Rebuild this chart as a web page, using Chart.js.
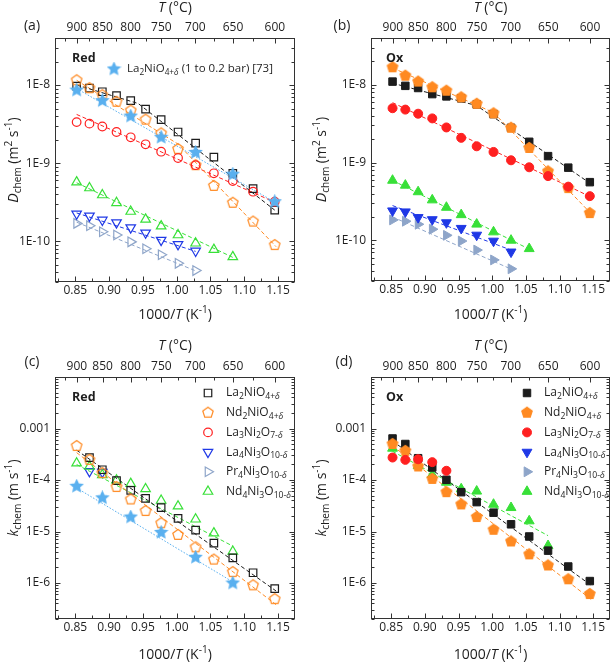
<!DOCTYPE html>
<html>
<head>
<meta charset="utf-8">
<script src="https://cdn.jsdelivr.net/npm/chart.js@4.4.1/dist/chart.umd.min.js"></script>
<style>
  body { margin: 0; background: #fff; }
  #wrap { position: relative; width: 614px; height: 665px; }
  canvas { position: absolute; }
</style>
</head>
<body>
<div id="wrap">
  <canvas id="pa" width="307" height="330" style="left:0;top:0;width:307px;height:330px"></canvas>
  <canvas id="pb" width="307" height="330" style="left:307px;top:0;width:307px;height:330px"></canvas>
  <canvas id="pc" width="307" height="335" style="left:0;top:330px;width:307px;height:335px"></canvas>
  <canvas id="pd" width="307" height="335" style="left:307px;top:330px;width:307px;height:335px"></canvas>
</div>
<script>
// ---- data ----
// 1000/T positions of the measurement temperatures (900 ... 600 °C, 25 °C steps)
const invT = [0.852, 0.871, 0.890, 0.911, 0.932, 0.954, 0.977, 1.002, 1.028, 1.055, 1.083, 1.113, 1.145];
const invTRef = [0.852, 0.890, 0.932, 0.977, 1.028, 1.083, 1.145];

// tick labels
const xTickVals = [0.85, 0.90, 0.95, 1.00, 1.05, 1.10, 1.15];
const xMinorVals = [0.825, 0.875, 0.925, 0.975, 1.025, 1.075, 1.125];
const topTempC = [900, 850, 800, 750, 700, 650, 600];
const topMinorC = [925, 875, 825, 775, 725, 675, 625];
const dTickVals = [1e-10, 1e-9, 1e-8];
const dTickLabels = ['1E-10', '1E-9', '1E-8'];
const kTickVals = [1e-6, 1e-5, 1e-4, 1e-3];
const kTickLabels = ['1E-6', '1E-5', '1E-4', '0.001'];
const legendLabels = ['La_2NiO_{4+δ}', 'Nd_2NiO_{4+δ}', 'La_3Ni_2O_{7-δ}', 'La_4Ni_3O_{10-δ}', 'Pr_4Ni_3O_{10-δ}', 'Nd_4Ni_3O_{10-δ}'];

// (a) D_chem, reduction
const dRedLa2NiO4 = [9.7e-9, 9.1e-9, 8.2e-9, 7.3e-9, 6.3e-9, 4.9e-9, 3.6e-9, 2.5e-9, 1.8e-9, 1.19e-9, 7.4e-10, 4.7e-10, 2.5e-10];
const dRedNd2NiO4 = [1.15e-8, 9.1e-9, 7.4e-9, 6.1e-9, 4.7e-9, 3.6e-9, 2.4e-9, 1.51e-9, 9.4e-10, 5.1e-10, 3.1e-10, 1.78e-10, 8.9e-11];
const dRedLa3Ni2O7 = [3.35e-9, 3.2e-9, 2.94e-9, 2.5e-9, 2.14e-9, 1.74e-9, 1.40e-9, 1.16e-9, 9.4e-10, 7.4e-10, 5.9e-10, 4.3e-10, 3.2e-10];
const dRedLa4Ni3O10 = [2.24e-10, 2.11e-10, 1.87e-10, 1.73e-10, 1.49e-10, 1.28e-10, 1.03e-10, 9.1e-11, 7.5e-11];
const dRedPr4Ni3O10 = [1.69e-10, 1.58e-10, 1.32e-10, 1.2e-10, 9.8e-11, 8.0e-11, 6.7e-11, 5.2e-11, 4.2e-11];
const dRedNd4Ni3O10 = [5.7e-10, 4.8e-10, 3.9e-10, 3.1e-10, 2.4e-10, 1.9e-10, 1.56e-10, 1.2e-10, 9.4e-11, 7.8e-11, 6.3e-11];
const dRefLa2NiO4 = [8.6e-9, 6.3e-9, 4.0e-9, 2.14e-9, 1.37e-9, 7.2e-10, 3.2e-10];

// (b) D_chem, oxidation
const dOxLa2NiO4 = [1.10e-8, 9.7e-9, 9.1e-9, 7.6e-9, 7.1e-9, 6.7e-9, 5.6e-9, 4.2e-9, 2.8e-9, 1.85e-9, 1.21e-9, 8.6e-10, 5.6e-10];
const dOxNd2NiO4 = [1.68e-8, 1.31e-8, 1.10e-8, 9.3e-9, 8.4e-9, 6.9e-9, 5.7e-9, 4.3e-9, 2.8e-9, 1.54e-9, 7.7e-10, 4.7e-10, 2.24e-10];
const dOxLa3Ni2O7 = [5.0e-9, 4.8e-9, 4.25e-9, 3.7e-9, 2.83e-9, 2.08e-9, 1.62e-9, 1.37e-9, 1.07e-9, 8.7e-10, 6.7e-10, 4.9e-10, 3.7e-10];
const dOxLa4Ni3O10 = [2.4e-10, 2.33e-10, 1.97e-10, 1.85e-10, 1.69e-10, 1.43e-10, 1.17e-10, 9.8e-11, 7.1e-11];
const dOxPr4Ni3O10 = [1.83e-10, 1.76e-10, 1.61e-10, 1.39e-10, 1.16e-10, 9.8e-11, 7.5e-11, 5.6e-11, 4.3e-11];
const dOxNd4Ni3O10 = [5.9e-10, 5.1e-10, 4.2e-10, 3.3e-10, 2.65e-10, 2.13e-10, 1.61e-10, 1.28e-10, 1.0e-10, 7.8e-11];

// (c) k_chem, reduction
const kRedLa2NiO4 = [2.73e-4, 1.58e-4, 9.7e-5, 6.3e-5, 4.4e-5, 2.9e-5, 1.8e-5, 1.06e-5, 5.97e-6, 3.07e-6, 1.58e-6, 7.8e-7];
const kRedNd2NiO4 = [4.57e-4, 2.46e-4, 1.36e-4, 7.3e-5, 4.19e-5, 2.5e-5, 1.45e-5, 8.6e-6, 4.93e-6, 2.85e-6, 1.63e-6, 9.0e-7, 4.85e-7];
const kRedLa4Ni3O10 = [1.47e-4, 1.43e-4];
const kRedNd4Ni3O10 = [2.12e-4, 1.83e-4, 1.25e-4, 9.9e-5, 8.5e-5, 6.7e-5, 4.0e-5, 3.1e-5, 1.73e-5, 9.3e-6, 4.1e-6];
const kRefLa2NiO4 = [7.55e-5, 4.5e-5, 1.91e-5, 9.6e-6, 3.16e-6, 1.0e-6];

// (d) k_chem, oxidation
const kOxLa2NiO4 = [6.4e-4, 5.0e-4, 2.65e-4, 1.75e-4, 1.01e-4, 5.8e-5, 3.72e-5, 2.32e-5, 1.38e-5, 8.0e-6, 4.25e-6, 2.09e-6, 1.09e-6];
const kOxNd2NiO4 = [5.0e-4, 3.67e-4, 1.83e-4, 1.05e-4, 5.8e-5, 3.36e-5, 1.91e-5, 1.08e-5, 6.4e-6, 3.6e-6, 2.19e-6, 1.18e-6, 6.1e-7];
const kOxLa3Ni2O7 = [2.73e-4, 2.46e-4, 2.53e-4, 2.22e-4, 1.51e-4];
const kOxNd4Ni3O10 = [4.12e-4, 1.89e-4, 1.27e-4, 9.0e-5, 6.7e-5, 6.05e-5, 3.36e-5, 2.9e-5, 1.6e-5, 5.3e-6];
const invTOxNd4 = [0.852, 0.890, 0.911, 0.932, 0.954, 0.977, 1.002, 1.028, 1.055, 1.083];

// fitted (dashed) lines: [1000/T, value] end / break points
const fitDRedLa2NiO4 = [[0.852, 1.0e-8], [0.943, 5.8e-9], [1.145, 2.5e-10]];
const fitDRedNd2NiO4 = [[0.852, 1.15e-8], [1.002, 1.75e-9], [1.147, 8.5e-11]];
const fitDRedLa3Ni2O7 = [[0.852, 4.2e-9], [1.147, 3.1e-10]];
const fitDRedLa4Ni3O10 = [[0.852, 2.3e-10], [1.028, 7.4e-11]];
const fitDRedPr4Ni3O10 = [[0.852, 1.75e-10], [1.030, 4.1e-11]];
const fitDRedNd4Ni3O10 = [[0.852, 5.6e-10], [1.083, 6.2e-11]];
const fitDRefLa2NiO4 = [[0.852, 9.0e-9], [1.147, 3.1e-10]];
const fitDOxLa2NiO4 = [[0.852, 1.05e-8], [0.977, 5.4e-9], [1.147, 5.3e-10]];
const fitDOxNd2NiO4 = [[0.852, 1.65e-8], [1.002, 4.4e-9], [1.147, 2.2e-10]];
const fitDOxLa3Ni2O7 = [[0.852, 5.9e-9], [1.147, 3.6e-10]];
const fitDOxLa4Ni3O10 = [[0.852, 2.8e-10], [1.028, 7.5e-11]];
const fitDOxPr4Ni3O10 = [[0.852, 2.0e-10], [1.030, 4.2e-11]];
const fitDOxNd4Ni3O10 = [[0.852, 5.9e-10], [1.055, 7.7e-11]];
const fitKRedLa2NiO4 = [[0.852, 3.8e-4], [1.147, 7.0e-7]];
const fitKRedNd2NiO4 = [[0.852, 3.4e-4], [1.147, 3.8e-7]];
const fitKRedNd4Ni3O10 = [[0.852, 2.0e-4], [1.083, 5.2e-6]];
const fitKRefLa2NiO4 = [[0.852, 7.0e-5], [1.083, 1.05e-6]];
const fitKOxLa2NiO4 = [[0.852, 5.7e-4], [1.147, 9.0e-7]];
const fitKOxNd2NiO4 = [[0.852, 4.6e-4], [1.147, 4.8e-7]];
const fitKOxNd4Ni3O10 = [[0.852, 3.6e-4], [1.083, 8.3e-6]];

// ---- look ----
const FONT = "'Open Sans', 'DejaVu Sans', sans-serif";
const TXT = '#1e1e1e';
const AXIS = '#333333';
const X_MIN = 0.82, X_MAX = 1.175;
const col = {
  black: '#1c1c1c', orange: '#ff8a22', red: '#ff2020', blue: '#1f38e6',
  grey: '#8ea5c9', green: '#38e038', star: '#5ab0ef'
};
const NONE = 'rgba(0,0,0,0)';

// pentagon / star markers drawn into small canvases, used as pointStyle
function makeMarker(kind, color, filled, size, r) {
  const c = document.createElement('canvas');
  c.width = c.height = size;
  const g = c.getContext('2d');
  const n = kind === 'star' ? 10 : 5;
  g.beginPath();
  for (let k = 0; k < n; k++) {
    const ang = -Math.PI / 2 + k * 2 * Math.PI / n;
    const rr = (kind === 'star' && k % 2) ? r * 0.48 : r;
    const px = size / 2 + rr * Math.cos(ang), py = size / 2 + rr * Math.sin(ang);
    if (k) g.lineTo(px, py); else g.moveTo(px, py);
  }
  g.closePath();
  g.lineWidth = 1.2;
  g.strokeStyle = color;
  if (filled) { g.fillStyle = color; g.fill(); }
  g.stroke();
  return c;
}

const openSty = [
  { shape: 'rect', r: 5.3, lw: 1.2, col: col.black, fill: NONE },
  { shape: makeMarker('pent', col.orange, false, 14, 5.5), r: 5, lw: 0, col: col.orange, fill: NONE },
  { shape: 'circle', r: 4.3, lw: 1.2, col: col.red, fill: NONE },
  { shape: 'triangle', rot: 180, r: 5.5, lw: 1.2, col: col.blue, fill: NONE },
  { shape: 'triangle', rot: 90, r: 5.5, lw: 1.2, col: col.grey, fill: NONE },
  { shape: 'triangle', r: 5.5, lw: 1.2, col: col.green, fill: NONE }
];
const fillSty = [
  { shape: 'rect', r: 5.3, lw: 1, col: col.black, fill: col.black },
  { shape: makeMarker('pent', col.orange, true, 14, 5.5), r: 5, lw: 0, col: col.orange, fill: col.orange },
  { shape: 'circle', r: 4.5, lw: 1, col: col.red, fill: col.red },
  { shape: 'triangle', rot: 180, r: 5.7, lw: 1, col: col.blue, fill: col.blue },
  { shape: 'triangle', rot: 90, r: 5.7, lw: 1, col: col.grey, fill: col.grey },
  { shape: 'triangle', r: 5.7, lw: 1, col: col.green, fill: col.green }
];
const starSty = { shape: makeMarker('star', col.star, true, 15, 6.2), r: 5, lw: 0, col: col.star, fill: col.star };

function series(xs, ys, s, order) {
  return {
    data: ys.map((v, i) => ({ x: xs[i], y: v })),
    showLine: false, order: order,
    pointStyle: s.shape, pointRotation: s.rot || 0,
    pointRadius: s.r, pointHoverRadius: s.r,
    pointBorderWidth: s.lw, pointBorderColor: s.col, pointBackgroundColor: s.fill
  };
}
function fitLine(pairs, color, dash) {
  return {
    data: pairs.map(p => ({ x: p[0], y: p[1] })),
    showLine: true, order: 20, pointRadius: 0, pointHoverRadius: 0,
    borderColor: color, borderWidth: 1, borderDash: dash, fill: false
  };
}
const DASH = [4, 2.5];
const DOT = [1.6, 1.6];

// ---- rich text (italic, sub/superscripts) ----
function parseRich(s) {
  const out = [];
  let i = 0, it = false;
  while (i < s.length) {
    const c = s[i];
    if (c === '*') { it = !it; i++; continue; }
    if (c === '_' || c === '^') {
      let t;
      if (s[i + 1] === '{') { const j = s.indexOf('}', i); t = s.slice(i + 2, j); i = j + 1; }
      else { t = s[i + 1]; i += 2; }
      for (const ch of t) out.push({ t: ch, sub: c === '_', sup: c === '^', it: ch === 'δ' });
      continue;
    }
    out.push({ t: c, it: it || c === 'δ' });
    i++;
  }
  return out;
}
function drawRich(ctx, str, x, y, size, align, weight) {
  const segs = parseRich(str);
  const fontOf = sg => (sg.it ? 'italic ' : '') + (weight || 'normal') + ' ' +
    ((sg.sub || sg.sup) ? size * 0.72 : size) + 'px ' + FONT;
  let w = 0;
  segs.forEach(sg => { ctx.font = fontOf(sg); sg.w = ctx.measureText(sg.t).width; w += sg.w; });
  let cx = align === 'center' ? x - w / 2 : (align === 'right' ? x - w : x);
  ctx.fillStyle = TXT;
  ctx.textBaseline = 'middle';
  ctx.textAlign = 'left';
  segs.forEach(sg => {
    ctx.font = fontOf(sg);
    const dy = sg.sub ? size * 0.3 : (sg.sup ? -size * 0.33 : 0);
    ctx.fillText(sg.t, cx, y + dy);
    cx += sg.w;
  });
}

// frame, inward ticks, titles, tags and legends
const decor = {
  id: 'decor',
  afterDraw(chart, args, o) {
    const ctx = chart.ctx, a = chart.chartArea;
    const xs = chart.scales.x, ys = chart.scales.y;
    const L = Math.round(a.left) + 0.5, R = Math.round(a.right) - 0.5;
    const T = Math.round(a.top) + 0.5, B = Math.round(a.bottom) - 0.5;
    ctx.save();
    ctx.strokeStyle = AXIS;
    ctx.lineWidth = 1;
    ctx.setLineDash([]);
    ctx.strokeRect(L, T, R - L, B - T);
    ctx.beginPath();
    const vTick = (v, len, top) => {
      if (v < X_MIN || v > X_MAX) return;
      const p = Math.round(xs.getPixelForValue(v)) + 0.5;
      if (top) { ctx.moveTo(p, T); ctx.lineTo(p, T + len); }
      else { ctx.moveTo(p, B); ctx.lineTo(p, B - len); }
    };
    const hTick = (v, len) => {
      const p = Math.round(ys.getPixelForValue(v)) + 0.5;
      ctx.moveTo(L, p); ctx.lineTo(L + len, p);
      ctx.moveTo(R, p); ctx.lineTo(R - len, p);
    };
    xTickVals.forEach(v => vTick(v, 5, false));
    xMinorVals.forEach(v => vTick(v, 3, false));
    topTempC.forEach(t => vTick(1000 / (t + 273.15), 5, true));
    topMinorC.forEach(t => vTick(1000 / (t + 273.15), 3, true));
    for (let e = Math.floor(Math.log10(ys.min)); e <= Math.ceil(Math.log10(ys.max)); e++) {
      for (let m = 1; m <= 9; m++) {
        const v = m * Math.pow(10, e);
        if (v >= ys.min && v <= ys.max) hTick(v, m === 1 ? 5 : 3);
      }
    }
    ctx.stroke();

    const cxm = (a.left + a.right) / 2, cym = (a.top + a.bottom) / 2;
    drawRich(ctx, '*T* (°C)', cxm, o.topTitleY, 14, 'center');
    drawRich(ctx, '1000/*T* (K^{-1})', cxm, o.bottomTitleY, 14, 'center');
    drawRich(ctx, o.panel, o.panelX, o.panelY, 14, 'center');
    ctx.save();
    ctx.translate(o.yTitleX, cym);
    ctx.rotate(-Math.PI / 2);
    drawRich(ctx, o.yTitle, 0, 0, 14, 'center');
    ctx.restore();
    drawRich(ctx, o.tag, o.tagX, o.tagY, 12.5, 'left', 'bold');

    const pt = Chart.helpers.drawPoint;
    (o.legend || []).forEach(it => {
      ctx.fillStyle = it.sty.fill;
      ctx.strokeStyle = it.sty.col;
      ctx.lineWidth = it.sty.lw;
      pt(ctx, { pointStyle: it.sty.shape, rotation: it.sty.rot || 0, radius: it.sty.r, borderWidth: it.sty.lw }, it.sx, it.y);
      drawRich(ctx, it.label, it.tx, it.y, it.size || 12, 'left');
    });
    ctx.restore();
  }
};

function makeScales(yMin, yMax, yVals, yLabels, dims) {
  const tickFont = { family: FONT, size: 12 };
  const noGrid = { display: false, drawTicks: false, tickLength: 0 };
  return {
    x: {
      type: 'linear', position: 'bottom', min: X_MIN, max: X_MAX,
      afterBuildTicks: s => { s.ticks = xTickVals.map(v => ({ value: v })); },
      afterFit: s => { s.height = dims.bottom; },
      ticks: { callback: v => v.toFixed(2), font: tickFont, color: TXT, padding: 1, maxRotation: 0, autoSkip: false },
      grid: noGrid, border: { display: false }
    },
    x2: {
      type: 'linear', position: 'top', min: X_MIN, max: X_MAX,
      afterBuildTicks: s => { s.ticks = topTempC.map(t => ({ value: 1000 / (t + 273.15) })); },
      afterFit: s => { s.height = dims.top; },
      ticks: { callback: (v, i) => String(topTempC[i]), font: tickFont, color: TXT, padding: 3, maxRotation: 0, autoSkip: false },
      grid: noGrid, border: { display: false }
    },
    y: {
      type: 'logarithmic', position: 'left', min: yMin, max: yMax,
      afterBuildTicks: s => { s.ticks = yVals.map(v => ({ value: v })); },
      afterFit: s => { s.width = dims.left; },
      ticks: { callback: (v, i) => yLabels[i], font: tickFont, color: TXT, padding: 5, autoSkip: false },
      grid: noGrid, border: { display: false }
    },
    y2: {
      type: 'logarithmic', position: 'right', min: yMin, max: yMax,
      afterFit: s => { s.width = dims.right; },
      ticks: { display: false },
      grid: noGrid, border: { display: false }
    }
  };
}

function makeChart(id, datasets, scales, deco) {
  return new Chart(document.getElementById(id), {
    type: 'scatter',
    data: { datasets: datasets },
    options: {
      responsive: false, animation: false, devicePixelRatio: 1,
      layout: { padding: 0, autoPadding: false },
      plugins: { legend: { display: false }, tooltip: { enabled: false }, decor: deco },
      scales: scales
    },
    plugins: [decor]
  });
}

const invT9 = invT.slice(0, 9), invT10 = invT.slice(0, 10), invT11 = invT.slice(0, 11);

// (a)
makeChart('pa', [
  series(invTRef, dRefLa2NiO4, starSty, 0),
  series(invT, dRedLa3Ni2O7, openSty[2], 1),
  series(invT, dRedNd2NiO4, openSty[1], 2),
  series(invT, dRedLa2NiO4, openSty[0], 3),
  series(invT11, dRedNd4Ni3O10, openSty[5], 4),
  series(invT9, dRedLa4Ni3O10, openSty[3], 5),
  series(invT9, dRedPr4Ni3O10, openSty[4], 6),
  fitLine(fitDRefLa2NiO4, col.star, DOT),
  fitLine(fitDRedLa2NiO4, col.black, DASH),
  fitLine(fitDRedNd2NiO4, col.orange, DASH),
  fitLine(fitDRedLa3Ni2O7, col.red, DASH),
  fitLine(fitDRedNd4Ni3O10, col.green, DASH),
  fitLine(fitDRedLa4Ni3O10, col.blue, DASH),
  fitLine(fitDRedPr4Ni3O10, col.grey, DASH)
], makeScales(3e-11, 4e-8, dTickVals, dTickLabels, { left: 55, right: 12, top: 38, bottom: 48 }), {
  panel: '(a)', panelX: 32, panelY: 26, topTitleY: 8, bottomTitleY: 315,
  yTitle: '*D*_{chem} (m^2 s^{-1})', yTitleX: 14, tag: 'Red', tagX: 72, tagY: 58,
  legend: [{ sty: starSty, label: 'La_2NiO_{4+δ} (1 to 0.2 bar) [73]', sx: 114, tx: 127, y: 69, size: 11.5 }]
});

// (b)
makeChart('pb', [
  series(invT, dOxLa3Ni2O7, fillSty[2], 1),
  series(invT, dOxNd2NiO4, fillSty[1], 2),
  series(invT, dOxLa2NiO4, fillSty[0], 3),
  series(invT10, dOxNd4Ni3O10, fillSty[5], 4),
  series(invT9, dOxLa4Ni3O10, fillSty[3], 5),
  series(invT9, dOxPr4Ni3O10, fillSty[4], 6),
  fitLine(fitDOxLa2NiO4, col.black, DASH),
  fitLine(fitDOxNd2NiO4, col.orange, DASH),
  fitLine(fitDOxLa3Ni2O7, col.red, DASH),
  fitLine(fitDOxNd4Ni3O10, col.green, DASH),
  fitLine(fitDOxLa4Ni3O10, col.blue, DASH),
  fitLine(fitDOxPr4Ni3O10, col.grey, DASH)
], makeScales(3e-11, 4e-8, dTickVals, dTickLabels, { left: 64, right: 4, top: 38, bottom: 49 }), {
  panel: '(b)', panelX: 35, panelY: 26, topTitleY: 8, bottomTitleY: 315,
  yTitle: '*D*_{chem} (m^2 s^{-1})', yTitleX: 15, tag: 'Ox', tagX: 79, tagY: 58
});

const legendRows = (sx, tx, styles) => legendLabels.map((lab, i) => ({ label: lab, sx: sx, tx: tx, y: 63 + 19.7 * i, sty: styles[i] }));

// (c)
makeChart('pc', [
  series(invTRef.slice(0, 6), kRefLa2NiO4, starSty, 0),
  series(invT, kRedNd2NiO4, openSty[1], 2),
  series(invT.slice(1), kRedLa2NiO4, openSty[0], 3),
  series(invT11, kRedNd4Ni3O10, openSty[5], 4),
  series(invT.slice(1, 3), kRedLa4Ni3O10, openSty[3], 5),
  fitLine(fitKRefLa2NiO4, col.star, DOT),
  fitLine(fitKRedLa2NiO4, col.black, DASH),
  fitLine(fitKRedNd2NiO4, col.orange, DASH),
  fitLine(fitKRedNd4Ni3O10, col.green, DASH)
], makeScales(2e-7, 1e-2, kTickVals, kTickLabels, { left: 55, right: 12, top: 47, bottom: 46 }), {
  panel: '(c)', panelX: 32, panelY: 32, topTitleY: 16, bottomTitleY: 325,
  yTitle: '*k*_{chem} (m s^{-1})', yTitleX: 14, tag: 'Red', tagX: 72, tagY: 67,
  legend: legendRows(208, 226, openSty)
});

// (d)
makeChart('pd', [
  series(invT.slice(0, 5), kOxLa3Ni2O7, fillSty[2], 1),
  series(invT, kOxNd2NiO4, fillSty[1], 2),
  series(invT, kOxLa2NiO4, fillSty[0], 3),
  series(invTOxNd4, kOxNd4Ni3O10, fillSty[5], 4),
  fitLine(fitKOxLa2NiO4, col.black, DASH),
  fitLine(fitKOxNd2NiO4, col.orange, DASH),
  fitLine(fitKOxNd4Ni3O10, col.green, DASH)
], makeScales(2e-7, 1e-2, kTickVals, kTickLabels, { left: 64, right: 4, top: 47, bottom: 46 }), {
  panel: '(d)', panelX: 37, panelY: 32, topTitleY: 16, bottomTitleY: 325,
  yTitle: '*k*_{chem} (m s^{-1})', yTitleX: 15, tag: 'Ox', tagX: 79, tagY: 67,
  legend: legendRows(220, 237, fillSty)
});
</script>
</body>
</html>
